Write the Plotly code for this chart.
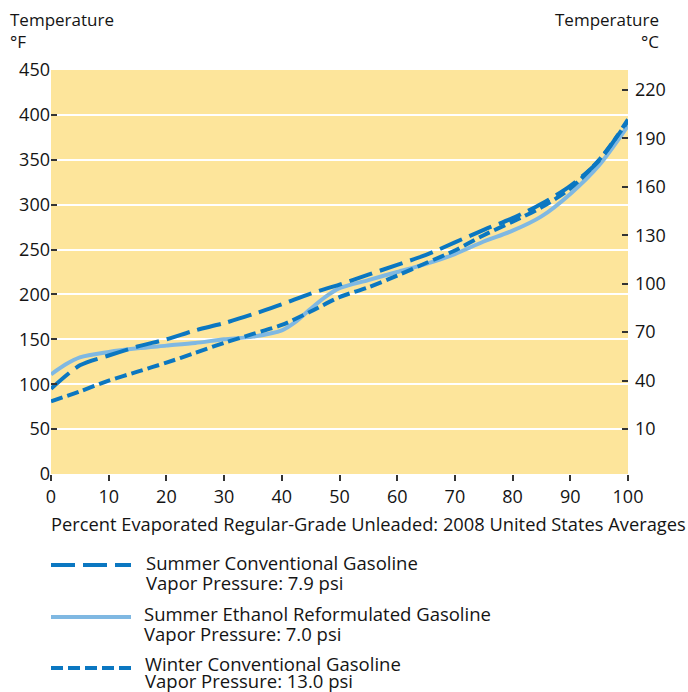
import plotly.graph_objects as go

# Percent evaporated (x) and temperature in °F (y)
pct_summer = [0, 5, 10, 15, 20, 25, 30, 35, 40, 45, 50, 55, 60, 65, 70, 75, 80, 85, 90, 95, 100]
summer_conv_f = [95, 121, 132, 142, 150, 160, 168, 178, 189, 201, 211, 222, 233, 244, 258, 272, 285, 301, 321, 349, 395]

pct_ethanol = [0, 2.5, 5, 10, 15, 20, 25, 30, 35, 40, 42.5, 45, 47.5, 50, 55, 60, 65, 70, 75, 80, 85, 90, 95, 100]
summer_eth_f = [111, 122, 130, 136, 140, 143, 146, 150, 153, 160, 170, 184, 197, 207, 216, 225, 234, 245, 259, 271, 287, 312, 344, 388]

pct_winter = [0, 5, 10, 15, 20, 25, 30, 35, 40, 45, 50, 55, 60, 65, 70, 75, 80, 85, 90, 95, 100]
winter_conv_f = [81, 92, 104, 114, 124, 135, 146, 156, 166, 181, 197, 208, 221, 235, 249, 266, 281, 297, 318, 350, 393]

x_ticks = [0, 10, 20, 30, 40, 50, 60, 70, 80, 90, 100]
f_ticks = [0, 50, 100, 150, 200, 250, 300, 350, 400, 450]
c_ticks = [10, 40, 70, 100, 130, 160, 190, 220]

series_names = [
    "Summer Conventional Gasoline<br>Vapor Pressure: 7.9 psi",
    "Summer Ethanol Reformulated Gasoline<br>Vapor Pressure: 7.0 psi",
    "Winter Conventional Gasoline<br>Vapor Pressure: 13.0 psi",
]
x_title = "Percent Evaporated Regular-Grade Unleaded: 2008 United States Averages"

DARK = "#0b77c1"
LIGHT = "#7fb8e2"
BG = "#fde59b"
TXT = "#141414"
FONT = "Open Sans"
dash_long = "24px,8px"
dash_short = "12px,5px"

F_MIN, F_MAX = 0, 450
def f_to_c(f):
    return (f - 32) * 5 / 9
c_min, c_max = f_to_c(F_MIN), f_to_c(F_MAX)

fig = go.Figure()
fig.add_trace(go.Scatter(x=pct_ethanol, y=summer_eth_f, mode="lines",
                         line=dict(color=LIGHT, width=4, shape="spline", smoothing=0.8),
                         name=series_names[1], showlegend=False))
fig.add_trace(go.Scatter(x=pct_winter, y=winter_conv_f, mode="lines",
                         line=dict(color=DARK, width=4, dash=dash_short, shape="spline", smoothing=0.8),
                         name=series_names[2], showlegend=False))
fig.add_trace(go.Scatter(x=pct_summer, y=summer_conv_f, mode="lines",
                         line=dict(color=DARK, width=4, dash=dash_long, shape="spline", smoothing=0.8),
                         name=series_names[0], showlegend=False))
# same summer series in °C on the secondary axis (invisible) so the °C axis is drawn
fig.add_trace(go.Scatter(x=pct_summer, y=[f_to_c(v) for v in summer_conv_f], mode="lines",
                         yaxis="y2", line=dict(color="rgba(0,0,0,0)", width=0),
                         hoverinfo="skip", showlegend=False))

W, H = 688, 692
L, R, T, B = 51, 60, 70, 218
pw, ph = W - L - R, H - T - B

def px(xp):
    return (xp - L) / pw

def py(yp):
    return (H - B - yp) / ph

fig.update_layout(
    width=W, height=H,
    margin=dict(l=L, r=R, t=T, b=B),
    paper_bgcolor="white", plot_bgcolor=BG,
    font=dict(family=FONT, color=TXT, size=17),
    showlegend=False,
    xaxis=dict(range=[0, 100], tickvals=x_ticks, ticks="outside", ticklen=6,
               tickwidth=1.5, tickcolor="#333", showgrid=False, zeroline=False,
               showline=False, tickfont=dict(size=18)),
    yaxis=dict(range=[F_MIN, F_MAX], tickvals=f_ticks, ticks="inside", ticklen=6,
               tickwidth=1.5, tickcolor="#333", showgrid=True, gridcolor="white",
               gridwidth=1.5, zeroline=False, showline=False, tickfont=dict(size=18)),
    yaxis2=dict(range=[c_min, c_max], tickvals=c_ticks, ticks="inside", ticklen=6,
                tickwidth=1.5, tickcolor="#333", overlaying="y", side="right",
                showgrid=False, zeroline=False, showline=False, tickfont=dict(size=18),
                ticklabelstandoff=6),
)

annotations = [
    dict(text="Temperature", x=px(8), y=py(20), xanchor="left", yanchor="middle",
         font=dict(size=17)),
    dict(text="°F", x=px(8), y=py(42), xanchor="left", yanchor="middle",
         font=dict(size=17)),
    dict(text="Temperature", x=px(661), y=py(20), xanchor="right", yanchor="middle",
         font=dict(size=17)),
    dict(text="°C", x=px(661), y=py(42), xanchor="right", yanchor="middle",
         font=dict(size=17)),
    dict(text=x_title, x=px(49), y=py(523), xanchor="left", yanchor="middle",
         font=dict(size=18.3)),
]

legend_rows = [
    (565, DARK, dash_long, series_names[0], 144, 562, 582),
    (617, LIGHT, "solid", series_names[1], 142, 613, 633),
    (668, DARK, dash_short, series_names[2], 143, 663, 680),
]
shapes = []
for yline, col, dsh, name, tx, ty1, ty2 in legend_rows:
    shapes.append(dict(type="line", xref="paper", yref="paper",
                       x0=px(51), x1=px(131), y0=py(yline), y1=py(yline),
                       line=dict(color=col, width=4, dash=dsh)))
    l1, l2 = name.split("<br>")
    annotations.append(dict(text=l1, x=px(tx), y=py(ty1), xanchor="left",
                            yanchor="middle", font=dict(size=18.5)))
    annotations.append(dict(text=l2, x=px(tx), y=py(ty2), xanchor="left",
                            yanchor="middle", font=dict(size=18.5)))

for a in annotations:
    a.update(xref="paper", yref="paper", showarrow=False)

fig.update_layout(annotations=annotations, shapes=shapes)
fig.write_html("out.html", config={"displayModeBar": False},
               post_script="document.body.style.margin='0';document.body.style.overflow='hidden';")
